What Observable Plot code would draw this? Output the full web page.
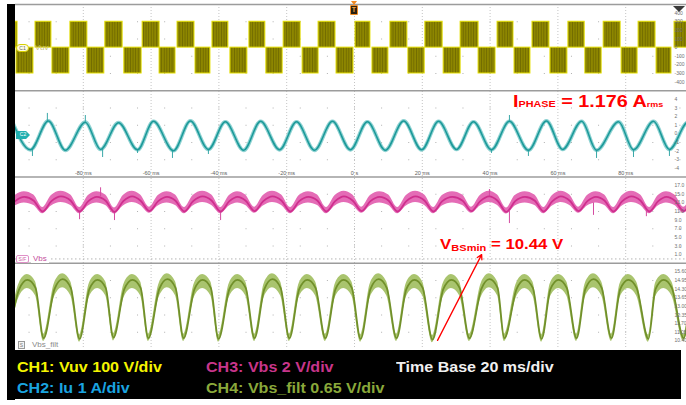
<!DOCTYPE html>
<html>
<head>
<meta charset="utf-8">
<script src="https://cdn.jsdelivr.net/npm/d3@7"></script>
<script src="https://cdn.jsdelivr.net/npm/@observablehq/plot@0.6"></script>
<style>
  html, body { margin:0; padding:0; background:#fff; }
  #wrap { position:relative; width:686px; height:405px; overflow:hidden; background:#fff; font-family:"Liberation Sans", Arial, sans-serif; }
  #chart { position:absolute; left:0; top:0; width:686px; height:350px; overflow:hidden; }
  #leftbar { position:absolute; left:7px; top:4px; width:8px; height:396px; background:#000; }
  #legend { position:absolute; left:7px; top:350px; width:674px; height:49px; background:#000; }
  .lg { position:absolute; font-weight:bold; font-size:15px; line-height:16px; white-space:nowrap; transform:scaleX(1.07); transform-origin:0 0; }
  .tag { position:absolute; font-size:5px; line-height:7px; text-align:center; box-sizing:border-box; }
  .lab { position:absolute; font-size:8px; line-height:9px; white-space:nowrap; }
</style>
</head>
<body>
<svg width="0" height="0" style="position:absolute">
  <defs>
    <pattern id="pwm" patternUnits="userSpaceOnUse" width="2.6" height="20">
      <rect width="2.6" height="20" fill="#8d8600"></rect>
      <rect width="0.8" height="20" fill="#6f6900"></rect>
    </pattern>
  </defs>
</svg>
<div id="wrap">
  <div id="chart"></div>
  <div id="leftbar"></div>
  <div class="tag" style="left:16px;top:44px;width:13px;height:8px;background:#fffde0;border:1px solid #d8d000;border-radius:4px;color:#666;">C1</div>
  <div class="lab" style="left:35px;top:43px;color:#c8c27a;">Vuv</div>
  <div class="tag" style="left:16px;top:131px;width:14px;height:8px;background:#22b0b0;color:#fff;clip-path:polygon(0 0,72% 0,100% 50%,72% 100%,0 100%);">C2</div>
  <div class="tag" style="left:16px;top:255px;width:13px;height:8px;background:#fff;border:1px solid #e090c8;border-radius:2px;color:#d060a8;">S/F</div>
  <div class="lab" style="left:31px;top:254px;color:#c44c9c;background:#fff;padding:0 2px;">Vbs</div>
  <div class="tag" style="left:18px;top:341px;width:7px;height:8px;background:#f4f4f4;border:1px solid #999;color:#777;">S</div>
  <div class="lab" style="left:32px;top:340px;color:#8a8a8a;">Vbs_filt</div>
  <div style="position:absolute;left:350.5px;top:1px;width:0;height:0;border-left:3.5px solid transparent;border-right:3.5px solid transparent;border-top:4px solid #f08a24;"></div>
  <div style="position:absolute;left:350px;top:5px;width:8px;height:10px;box-sizing:border-box;background:#2a2010;border:1px solid #f08a24;border-radius:1px;color:#f0a040;font-weight:bold;font-size:7px;line-height:8px;text-align:center;">T</div>
  <div style="position:absolute;left:673px;top:6px;width:0;height:0;border-left:6px solid transparent;border-right:6px solid transparent;border-top:6px solid #3a3a3a;"></div>
  <div id="legend">
    <div class="lg" style="left:10px;top:9px;color:#f4f400;">CH1: Vuv 100 V/div</div>
    <div class="lg" style="left:199px;top:9px;color:#c8358a;">CH3: Vbs 2 V/div</div>
    <div class="lg" style="left:389px;top:9px;color:#f0f0f0;">Time Base 20 ms/div</div>
    <div class="lg" style="left:10px;top:30px;color:#1aa4e0;">CH2: Iu 1 A/div</div>
    <div class="lg" style="left:199px;top:30px;color:#8aa83a;">CH4: Vbs_filt 0.65 V/div</div>
  </div>
</div>
<script>
// ---------------- time axis (ms) ----------------
const majorTimes  = [-80, -60, -40, -20, 0, 20, 40, 60, 80];
const majorLabels = ["-80 ms", "-60 ms", "-40 ms", "-20 ms", "0 s", "20 ms", "40 ms", "60 ms", "80 ms"];

// ---------------- CH1 Vuv (V): PWM blocks ----------------
const ch1HighLevel = 300;
const ch1LowLevel = -300;
const ch1HighStart = [-100, -94.1, -83.8, -73.5, -62.5, -52.2, -41.9, -31.0, -20.9, -10.6, 0.3, 10.6, 20.9, 31.3, 42.2, 52.5, 63.1, 73.5, 83.8, 94.4];
const ch1HighEnd   = [-99.4, -89.4, -78.8, -68.4, -57.5, -47.2, -37.2, -26.3, -15.9, -5.6, 4.7, 15.6, 26.0, 36.6, 46.9, 57.5, 67.9, 78.5, 88.8, 100];
const ch1LowStart  = [-99.7, -89.1, -78.8, -67.9, -57.5, -46.9, -36.6, -26.0, -15.3, -5.3, 5.3, 15.9, 26.3, 36.6, 47.2, 57.8, 68.1, 78.8, 89.1];
const ch1LowEnd    = [-94.7, -84.1, -73.8, -62.8, -52.8, -42.5, -31.6, -21.2, -10.6, -0.3, 10.0, 20.7, 31.3, 41.6, 51.9, 62.8, 72.9, 83.5, 93.5];

// ---------------- CH2 Iu (A): peaks / troughs ----------------
const ch2T = [-100.9, -95.6, -90.3, -85.3, -79.4, -74.9, -69.6, -64.0, -59.3, -53.4, -48.4, -43.1, -38.1, -32.7, -27.7, -22.1, -17.1, -11.8, -6.5, -1.2,
              3.8, 9.1, 14.5, 19.8, 24.8, 30.1, 35.1, 40.4, 45.7, 51.3, 56.6, 61.4, 67.0, 71.4, 77.9, 82.3, 88.2, 92.9, 98.5, 103.2];
const ch2V = [1.4, -1.85, 1.5, -1.9, 1.35, -1.8, 1.3, -1.85, 1.45, -1.95, 1.5, -1.8, 1.4, -1.9, 1.45, -1.85, 1.4, -1.9, 1.45, -1.85,
              1.4, -1.9, 1.5, -1.85, 1.45, -1.8, 1.4, -1.85, 1.45, -1.9, 1.5, -1.8, 1.45, -1.9, 1.4, -1.85, 1.45, -1.8, 1.4, -1.85];
const ch2SpikeT    = [-95.0, -90.6, -79.4, -74.3, -64.0, -53.7, -43.1, 40.4, 45.7, 51.3, 71.4, 82.3, 92.9];
const ch2SpikeBase = [-1.8, 1.4, 1.35, -1.8, -1.85, -1.9, -1.8, -1.85, 1.45, -1.9, -1.9, -1.85, -1.8];
const ch2SpikeTip  = [-2.62, 2.37, 2.13, -2.74, -2.27, -2.85, -2.39, -2.27, 2.13, -2.62, -2.85, -2.74, -2.62];

// ---------------- CH3 Vbs (V): dips, shoulders, crests ----------------
const ch3DipT   = [-102.7, -92.0, -81.1, -70.8, -60.5, -50.2, -39.5, -29.5, -18.9, -8.3, 2.1, 12.7, 23.3, 34.5, 44.8, 55.8, 66.1, 76.4, 87.0, 97.1];
const ch3DipV   = [11.1, 11.0, 11.0, 10.9, 11.1, 11.0, 11.0, 11.1, 11.0, 11.0, 11.1, 11.0, 11.0, 11.1, 10.9, 11.0, 11.1, 11.0, 11.0, 11.1];
const ch3CrestT = [-97.4, -86.6, -76.0, -65.6, -55.3, -44.8, -34.5, -24.2, -13.6, -3.1, 7.4, 18.0, 28.9, 39.7, 50.3, 60.9, 71.2, 81.7, 92.0, 102.1];
const ch3CrestV = [14.4, 14.5, 14.4, 14.5, 14.4, 14.5, 14.4, 14.5, 14.4, 14.5, 14.4, 14.5, 14.4, 14.5, 14.4, 14.5, 14.4, 14.5, 14.4, 14.5];
const ch3ShoulderT = [-100.1, -94.6, -89.4, -83.7, -78.5, -73.4, -68.2, -63.1, -57.9, -52.8, -47.6, -42.1, -36.9, -32.1, -26.9, -21.5, -16.3, -10.9, -5.7, -0.5,
                      4.7, 10.1, 15.3, 20.7, 25.9, 31.9, 37.1, 42.2, 47.4, 53.2, 58.4, 63.5, 68.7, 73.8, 79.0, 84.4, 89.6, 94.5, 99.7];
const ch3ShoulderV = [13.4, 13.5, 13.4, 13.5, 13.4, 13.5, 13.4, 13.5, 13.4, 13.5, 13.4, 13.5, 13.4, 13.5, 13.4, 13.5, 13.4, 13.5, 13.4, 13.5,
                      13.4, 13.5, 13.4, 13.5, 13.4, 13.5, 13.4, 13.5, 13.4, 13.5, 13.4, 13.5, 13.4, 13.5, 13.4, 13.5, 13.4, 13.5, 13.4];
const ch3NoiseDip = [-0.5, 0.9];       // noise band below / above the trace
const ch3NoiseShoulder = [-1.1, 1.3];
const ch3NoiseCrest = [-1.4, 1.2];
const ch3SpikeT    = [-81.1, -74.9, -70.8, -39.5, 39.8, 45.7, 70.5, 86.1];
const ch3SpikeBase = [11.0, 14.4, 11.0, 11.0, 14.4, 11.0, 13.0, 11.0];
const ch3SpikeTip  = [9.1, 16.5, 8.9, 8.9, 16.1, 8.2, 10.1, 9.8];

// ---------------- CH4 Vbs_filt (V): troughs, shoulders, peaks ----------------
const ch4TroughT = [-102.1, -91.7, -81.1, -71.1, -60.8, -50.4, -40.1, -29.5, -19.2, -8.6, 1.8, 12.4, 23.0, 33.9, 44.2, 55.2, 65.5, 75.8, 86.7, 97.1];
const ch4TroughV = [10.6, 10.6, 10.55, 10.65, 10.6, 10.6, 10.55, 10.6, 10.6, 10.6, 10.55, 10.6, 10.5, 10.6, 10.6, 10.55, 10.6, 10.6, 10.55, 10.6];
const ch4PeakT   = [-96.5, -86.1, -75.8, -65.5, -55.2, -44.8, -34.5, -24.2, -13.9, -3.2, 7.1, 17.7, 28.6, 39.8, 50.2, 60.2, 70.5, 80.8, 91.2, 102.1];
const ch4PeakV   = [15.0, 15.05, 15.0, 15.0, 15.05, 15.0, 15.0, 15.05, 15.0, 15.0, 15.05, 15.0, 15.0, 15.05, 15.0, 15.0, 15.05, 15.0, 15.0, 15.05];
const ch4ShoulderT = [-98.9, -94.1, -88.5, -83.7, -78.2, -73.4, -67.9, -63.1, -57.6, -52.8, -47.2, -42.4, -36.9, -32.1, -26.6, -21.8, -16.3, -11.5, -5.6, -0.8,
                      4.7, 9.5, 15.3, 20.1, 26.2, 31.0, 37.4, 42.2, 47.8, 52.6, 57.8, 62.6, 68.1, 72.9, 78.4, 83.2, 88.8, 93.6, 99.7];
const ch4ShoulderV = [14.3, 14.4, 14.3, 14.4, 14.3, 14.4, 14.3, 14.4, 14.3, 14.4, 14.3, 14.4, 14.3, 14.4, 14.3, 14.4, 14.3, 14.4, 14.3, 14.4,
                      14.3, 14.4, 14.3, 14.4, 14.3, 14.4, 14.3, 14.4, 14.3, 14.4, 14.3, 14.4, 14.3, 14.4, 14.3, 14.4, 14.3, 14.4, 14.3];
const ch4NoiseTrough = [-0.25, 0.3];
const ch4NoiseShoulder = [-0.6, 0.45];
const ch4NoisePeak = [-0.65, 0.4];

// ---------------- right-edge channel scale labels ----------------
const ch1Ticks = ["400", "300", "200", "100", "0", "-100", "-200", "-300", "-400"];
const ch2Ticks = ["4", "3", "2", "1", "0", "-1", "-2", "-3", "-4"];
const ch3Ticks = ["17.0", "15.0", "13.0", "11.0", "9.0", "7.0", "5.0", "3.0", "1.0"];
const ch4Ticks = ["15.60", "14.95", "14.30", "13.65", "13.00", "12.35", "11.70", "11.05", "10.40"];

// ---------------- annotations ----------------
const phaseNote = {t: 46.9, amps: 3.06};
const vbsNote = {t: 25.4, volts: 17.29};
const vbsArrow = {t1: 24.5, v1: 10.44, t2: 37.5, v2: 16.9};

// channel value -> screen divisions (4 stacked panels of 10 divisions each)
const g1 = v => 35 + v / 100;
const g2 = a => 25 + a / 1;
const g3 = v => 10.5 + v / 2;
const g4 = v => (v - 9.75) / 0.65;

const ch1Blocks = [
  ...ch1HighStart.map((s, i) => ({x1: s, x2: ch1HighEnd[i], v: ch1HighLevel})),
  ...ch1LowStart.map((s, i) => ({x1: s, x2: ch1LowEnd[i], v: ch1LowLevel}))
];
const ch2Pts = ch2T.map((t, i) => ({t, v: ch2V[i]}));
const ch2Spikes = ch2SpikeT.map((t, i) => ({t, b: ch2SpikeBase[i], e: ch2SpikeTip[i]}));
function band(ts, vs, noise) { return ts.map((t, i) => ({t, m: vs[i], lo: vs[i] + noise[0], hi: vs[i] + noise[1]})); }
const ch3Pts = d3.sort([
  ...band(ch3DipT, ch3DipV, ch3NoiseDip),
  ...band(ch3ShoulderT, ch3ShoulderV, ch3NoiseShoulder),
  ...band(ch3CrestT, ch3CrestV, ch3NoiseCrest)
], d => d.t);
const ch3Spikes = ch3SpikeT.map((t, i) => ({t, b: ch3SpikeBase[i], e: ch3SpikeTip[i]}));
const ch4Pts = d3.sort([
  ...band(ch4TroughT, ch4TroughV, ch4NoiseTrough),
  ...band(ch4ShoulderT, ch4ShoulderV, ch4NoiseShoulder),
  ...band(ch4PeakT, ch4PeakV, ch4NoisePeak)
], d => d.t);
const tickRows = [ch1Ticks, ch2Ticks, ch3Ticks, ch4Ticks].flatMap((arr, p) => arr.map((s, i) => ({g: 40 - 10 * p - (i + 1), s})));
const panelEdges = [40, 30, 20, 10];
const dotRows = [0, 1, 2, 3].flatMap(p => [2, 4, 6, 8].map(j => 40 - 10 * p - j));

const chart = Plot.plot({
  width: 700, height: 350,
  marginLeft: 15, marginRight: 7, marginTop: 4, marginBottom: 1,
  style: {background: "transparent", maxWidth: "none", fontFamily: "Liberation Sans, Arial, sans-serif"},
  x: {domain: [-100, 100], axis: null},
  y: {domain: [0, 40], axis: null},
  marks: [
    Plot.ruleY(dotRows, {y: d => d, stroke: "#b0b0b0", strokeDasharray: "1,26.12", strokeDashoffset: 13.56}),
    Plot.ruleX(majorTimes, {x: d => d, stroke: "#c4c4c4", strokeDasharray: "1,2"}),
    Plot.ruleY(panelEdges, {y: d => d, stroke: "#9c9c9c", strokeWidth: 1.5}),
    Plot.ruleY([0], {y: d => g3(d), stroke: "#b4b4b4", strokeDasharray: "1.5,2.5"}),
    // CH1
    Plot.rect(ch1Blocks, {x1: "x1", x2: "x2", y1: () => g1(0), y2: d => g1(d.v), fill: "url(#pwm)", stroke: "#e6e000", strokeWidth: 1, clip: true}),
    // CH2
    Plot.line(ch2Pts, {x: "t", y: d => g2(d.v), curve: "monotone-x", stroke: "#8ed2d2", strokeWidth: 3.8, clip: true}),
    Plot.ruleX(ch2Spikes, {x: "t", y1: d => g2(d.b), y2: d => g2(d.e), stroke: "#3aa8a8", strokeWidth: 1}),
    Plot.line(ch2Pts, {x: "t", y: d => g2(d.v), curve: "monotone-x", stroke: "#1b9999", strokeWidth: 1.5, clip: true}),
    // CH3
    Plot.areaY(ch3Pts, {x: "t", y1: d => g3(d.lo), y2: d => g3(d.hi), curve: "monotone-x", fill: "#e46cb6", clip: true}),
    Plot.ruleX(ch3Spikes, {x: "t", y1: d => g3(d.b), y2: d => g3(d.e), stroke: "#d44aa0", strokeWidth: 1}),
    Plot.line(ch3Pts, {x: "t", y: d => g3(d.m), curve: "monotone-x", stroke: "#cf2f8e", strokeWidth: 1.8, clip: true}),
    // CH4
    Plot.areaY(ch4Pts, {x: "t", y1: d => g4(d.lo), y2: d => g4(d.hi), curve: "monotone-x", fill: "#a9c46e", clip: true}),
    Plot.line(ch4Pts, {x: "t", y: d => g4(d.m), curve: "monotone-x", stroke: "#71902a", strokeWidth: 1.8, clip: true}),
    // time labels
    Plot.text(majorTimes, {x: d => d, y: () => 20, text: (d, i) => majorLabels[i], dy: -3.5, fontSize: 5.5, fill: "#606060"}),
    // channel scale labels
    Plot.text(tickRows, {y: "g", text: "s", frameAnchor: "right", dx: -19, textAnchor: "start", fontSize: 5, fill: "#707070"}),
    // V_BSmin arrow
    Plot.arrow([vbsArrow], {x1: "t1", y1: d => g4(d.v1), x2: "t2", y2: d => g4(d.v2), stroke: "#ff0000", strokeWidth: 1.3, headLength: 6})
  ]
});
document.getElementById("chart").appendChild(chart);

// rich red annotations with subscripts, placed through the plot's scales
const sx = chart.scale("x"), sy = chart.scale("y");
function rich(t, g, parts, sc) {
  const txt = d3.select(chart).append("g")
    .attr("transform", `translate(${sx.apply(t)},${sy.apply(g)}) scale(${sc},1)`)
    .append("text")
    .attr("text-anchor", "start")
    .attr("font-family", "Liberation Sans, Arial, sans-serif")
    .attr("font-weight", "bold")
    .attr("fill", "#ff0000")
    .style("white-space", "pre");
  for (const p of parts) {
    txt.append("tspan").attr("font-size", p.size).attr("dy", p.dy || 0).text(p.text);
  }
}
rich(phaseNote.t, g2(phaseNote.amps), [
  {text: "I", size: 16.5}, {text: "PHASE", size: 9, dy: 0.5}, {text: " = 1.176 A", size: 16.5, dy: -0.5}, {text: "rms", size: 7.5, dy: 0.5}
], 1.2);
rich(vbsNote.t, g4(vbsNote.volts), [
  {text: "V", size: 14}, {text: "BSmin", size: 9.2, dy: 2.5}, {text: " = 10.44 V", size: 14, dy: -2.5}
], 1.2);
</script>
</body>
</html>
